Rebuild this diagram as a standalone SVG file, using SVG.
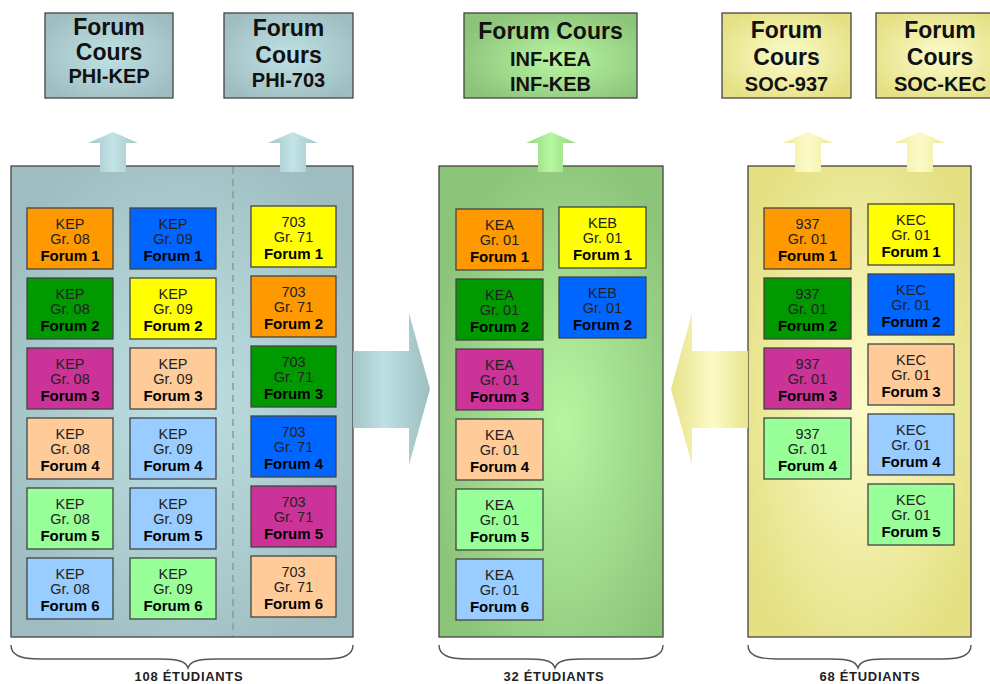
<svg xmlns="http://www.w3.org/2000/svg" width="990" height="684" viewBox="0 0 990 684">
<defs>
<style>
.hdr{font-family:"Liberation Sans",Arial,sans-serif;font-weight:bold;fill:#111;text-anchor:middle}
.h1{font-size:23px}
.h2{font-size:20px}
.bx{stroke:#444;stroke-width:1.3}
.pn{stroke:#444;stroke-width:1.3}
.t{font-family:"Liberation Sans",Arial,sans-serif;font-size:14.5px;fill:#222;text-anchor:middle}
.tb{font-family:"Liberation Sans",Arial,sans-serif;font-size:15px;font-weight:bold;fill:#000;text-anchor:middle}
.ft{font-family:"Liberation Sans",Arial,sans-serif;font-size:13px;font-weight:bold;fill:#222;text-anchor:middle;letter-spacing:0.7px}
.brace{fill:none;stroke:#555;stroke-width:1.4}
.or{fill:#ff9900}.bl{fill:#0066ff}.gr{fill:#009900}.ye{fill:#ffff00}.ma{fill:#cc3399}.pe{fill:#ffcc99}.lb{fill:#99ccff}.lg{fill:#99ff99}
</style>
<radialGradient id="gBlue" cx="0.5" cy="0.5" r="0.6">
<stop offset="0" stop-color="#bfe2e5"/><stop offset="1" stop-color="#9fbdc0"/>
</radialGradient>
<radialGradient id="gGreen" cx="0.55" cy="0.55" r="0.6">
<stop offset="0" stop-color="#b9f6a2"/><stop offset="1" stop-color="#8cc47a"/>
</radialGradient>
<radialGradient id="gYellow" cx="0.5" cy="0.5" r="0.6">
<stop offset="0" stop-color="#fdfccb"/><stop offset="1" stop-color="#e4e083"/>
</radialGradient>
<linearGradient id="uBlue" x1="0" y1="0" x2="1" y2="0">
<stop offset="0" stop-color="#a3c5c8"/><stop offset="0.5" stop-color="#c2e4e7"/><stop offset="1" stop-color="#a3c5c8"/>
</linearGradient>
<linearGradient id="uGreen" x1="0" y1="0" x2="1" y2="0">
<stop offset="0" stop-color="#93d381"/><stop offset="0.5" stop-color="#b6f7a0"/><stop offset="1" stop-color="#93d381"/>
</linearGradient>
<linearGradient id="uYellow" x1="0" y1="0" x2="1" y2="0">
<stop offset="0" stop-color="#eeea9c"/><stop offset="0.5" stop-color="#fcfbc8"/><stop offset="1" stop-color="#eeea9c"/>
</linearGradient>
<linearGradient id="aBlue" gradientUnits="userSpaceOnUse" x1="353" y1="0" x2="430" y2="0">
<stop offset="0" stop-color="#a6c6c9"/><stop offset="0.4" stop-color="#bde0e3"/><stop offset="1" stop-color="#9ebec1"/>
</linearGradient>
<linearGradient id="aYellow" gradientUnits="userSpaceOnUse" x1="748" y1="0" x2="671" y2="0">
<stop offset="0" stop-color="#e9e58f"/><stop offset="0.45" stop-color="#fcfbc6"/><stop offset="1" stop-color="#e7e38a"/>
</linearGradient>
</defs>
<rect x="0" y="0" width="990" height="684" fill="#ffffff"/>

<!-- header nodes -->
<g id="hdr-phi-kep">
<rect x="45" y="13" width="128" height="85" fill="url(#gBlue)" class="bx"/>
<text class="hdr h1" x="109" y="35">Forum</text>
<text class="hdr h1" x="109" y="60">Cours</text>
<text class="hdr h2" x="109" y="83">PHI-KEP</text>
</g>
<g id="hdr-phi-703">
<rect x="224" y="13" width="129" height="85" fill="url(#gBlue)" class="bx"/>
<text class="hdr h1" x="288.5" y="36">Forum</text>
<text class="hdr h1" x="288.5" y="63">Cours</text>
<text class="hdr h2" x="288.5" y="87">PHI-703</text>
</g>
<g id="hdr-inf">
<rect x="464" y="13" width="173" height="85" fill="url(#gGreen)" class="bx"/>
<text class="hdr h1" x="550.5" y="39">Forum Cours</text>
<text class="hdr h2" x="550.5" y="66">INF-KEA</text>
<text class="hdr h2" x="550.5" y="91">INF-KEB</text>
</g>
<g id="hdr-soc-937">
<rect x="722" y="13" width="129" height="85" fill="url(#gYellow)" class="bx"/>
<text class="hdr h1" x="786.5" y="38">Forum</text>
<text class="hdr h1" x="786.5" y="65">Cours</text>
<text class="hdr h2" x="786.5" y="91">SOC-937</text>
</g>
<g id="hdr-soc-kec">
<rect x="876" y="13" width="128" height="85" fill="url(#gYellow)" class="bx"/>
<text class="hdr h1" x="940" y="38">Forum</text>
<text class="hdr h1" x="940" y="65">Cours</text>
<text class="hdr h2" x="940" y="91">SOC-KEC</text>
</g>

<!-- panels -->
<g id="panel-phi">
<rect x="11" y="166" width="342" height="471" fill="url(#gBlue)" class="pn"/>
<line x1="233" y1="167" x2="233" y2="636" stroke="#8a9a9c" stroke-width="1.5" stroke-dasharray="7,5"/>
</g>
<g id="panel-inf">
<rect x="439" y="166" width="224" height="471" fill="url(#gGreen)" class="pn"/>
</g>
<g id="panel-soc">
<rect x="748" y="166" width="223" height="471" fill="url(#gYellow)" class="pn"/>
</g>

<!-- connectors -->
<g id="connectors">
<path d="M88,143 L113,132 L138,143 L126,143 L126,172 L100,172 L100,143 Z" fill="url(#uBlue)"/>
<path d="M268,143 L293,132 L318,143 L306,143 L306,172 L280,172 L280,143 Z" fill="url(#uBlue)"/>
<path d="M526,143 L551,132 L576,143 L563,143 L563,172 L538,172 L538,143 Z" fill="url(#uGreen)"/>
<path d="M783,143 L808,132 L833,143 L821,143 L821,172 L795,172 L795,143 Z" fill="url(#uYellow)"/>
<path d="M894,143 L920,132 L945,143 L933,143 L933,172 L907,172 L907,143 Z" fill="url(#uYellow)"/>
<path d="M353,351 L409,351 L409,313 L430,389 L409,465 L409,428 L353,428 Z" fill="url(#aBlue)"/>
<path d="M748,351 L692,351 L692,313 L671,389 L692,465 L692,428 L748,428 Z" fill="url(#aYellow)"/>
</g>

<!-- PHI-KEP Gr. 08 -->
<g id="kep08-f1"><rect class="bx or" x="27" y="208" width="86" height="61"/><text class="t" x="70" y="229">KEP</text><text class="t" x="70" y="244">Gr. 08</text><text class="tb" x="70" y="261">Forum 1</text></g>
<g id="kep08-f2"><rect class="bx gr" x="27" y="278" width="86" height="61"/><text class="t" x="70" y="299">KEP</text><text class="t" x="70" y="314">Gr. 08</text><text class="tb" x="70" y="331">Forum 2</text></g>
<g id="kep08-f3"><rect class="bx ma" x="27" y="348" width="86" height="61"/><text class="t" x="70" y="369">KEP</text><text class="t" x="70" y="384">Gr. 08</text><text class="tb" x="70" y="401">Forum 3</text></g>
<g id="kep08-f4"><rect class="bx pe" x="27" y="418" width="86" height="61"/><text class="t" x="70" y="439">KEP</text><text class="t" x="70" y="454">Gr. 08</text><text class="tb" x="70" y="471">Forum 4</text></g>
<g id="kep08-f5"><rect class="bx lg" x="27" y="488" width="86" height="61"/><text class="t" x="70" y="509">KEP</text><text class="t" x="70" y="524">Gr. 08</text><text class="tb" x="70" y="541">Forum 5</text></g>
<g id="kep08-f6"><rect class="bx lb" x="27" y="558" width="86" height="61"/><text class="t" x="70" y="579">KEP</text><text class="t" x="70" y="594">Gr. 08</text><text class="tb" x="70" y="611">Forum 6</text></g>

<!-- PHI-KEP Gr. 09 -->
<g id="kep09-f1"><rect class="bx bl" x="130" y="208" width="86" height="61"/><text class="t" x="173" y="229">KEP</text><text class="t" x="173" y="244">Gr. 09</text><text class="tb" x="173" y="261">Forum 1</text></g>
<g id="kep09-f2"><rect class="bx ye" x="130" y="278" width="86" height="61"/><text class="t" x="173" y="299">KEP</text><text class="t" x="173" y="314">Gr. 09</text><text class="tb" x="173" y="331">Forum 2</text></g>
<g id="kep09-f3"><rect class="bx pe" x="130" y="348" width="86" height="61"/><text class="t" x="173" y="369">KEP</text><text class="t" x="173" y="384">Gr. 09</text><text class="tb" x="173" y="401">Forum 3</text></g>
<g id="kep09-f4"><rect class="bx lb" x="130" y="418" width="86" height="61"/><text class="t" x="173" y="439">KEP</text><text class="t" x="173" y="454">Gr. 09</text><text class="tb" x="173" y="471">Forum 4</text></g>
<g id="kep09-f5"><rect class="bx lb" x="130" y="488" width="86" height="61"/><text class="t" x="173" y="509">KEP</text><text class="t" x="173" y="524">Gr. 09</text><text class="tb" x="173" y="541">Forum 5</text></g>
<g id="kep09-f6"><rect class="bx lg" x="130" y="558" width="86" height="61"/><text class="t" x="173" y="579">KEP</text><text class="t" x="173" y="594">Gr. 09</text><text class="tb" x="173" y="611">Forum 6</text></g>

<!-- PHI-703 Gr. 71 -->
<g id="p703-f1"><rect class="bx ye" x="251" y="206" width="85" height="61"/><text class="t" x="293.5" y="227">703</text><text class="t" x="293.5" y="242">Gr. 71</text><text class="tb" x="293.5" y="259">Forum 1</text></g>
<g id="p703-f2"><rect class="bx or" x="251" y="276" width="85" height="61"/><text class="t" x="293.5" y="297">703</text><text class="t" x="293.5" y="312">Gr. 71</text><text class="tb" x="293.5" y="329">Forum 2</text></g>
<g id="p703-f3"><rect class="bx gr" x="251" y="346" width="85" height="61"/><text class="t" x="293.5" y="367">703</text><text class="t" x="293.5" y="382">Gr. 71</text><text class="tb" x="293.5" y="399">Forum 3</text></g>
<g id="p703-f4"><rect class="bx bl" x="251" y="416" width="85" height="61"/><text class="t" x="293.5" y="437">703</text><text class="t" x="293.5" y="452">Gr. 71</text><text class="tb" x="293.5" y="469">Forum 4</text></g>
<g id="p703-f5"><rect class="bx ma" x="251" y="486" width="85" height="61"/><text class="t" x="293.5" y="507">703</text><text class="t" x="293.5" y="522">Gr. 71</text><text class="tb" x="293.5" y="539">Forum 5</text></g>
<g id="p703-f6"><rect class="bx pe" x="251" y="556" width="85" height="61"/><text class="t" x="293.5" y="577">703</text><text class="t" x="293.5" y="592">Gr. 71</text><text class="tb" x="293.5" y="609">Forum 6</text></g>

<!-- INF-KEA Gr. 01 -->
<g id="kea-f1"><rect class="bx or" x="456" y="209" width="87" height="61"/><text class="t" x="499.5" y="230">KEA</text><text class="t" x="499.5" y="245">Gr. 01</text><text class="tb" x="499.5" y="262">Forum 1</text></g>
<g id="kea-f2"><rect class="bx gr" x="456" y="279" width="87" height="61"/><text class="t" x="499.5" y="300">KEA</text><text class="t" x="499.5" y="315">Gr. 01</text><text class="tb" x="499.5" y="332">Forum 2</text></g>
<g id="kea-f3"><rect class="bx ma" x="456" y="349" width="87" height="61"/><text class="t" x="499.5" y="370">KEA</text><text class="t" x="499.5" y="385">Gr. 01</text><text class="tb" x="499.5" y="402">Forum 3</text></g>
<g id="kea-f4"><rect class="bx pe" x="456" y="419" width="87" height="61"/><text class="t" x="499.5" y="440">KEA</text><text class="t" x="499.5" y="455">Gr. 01</text><text class="tb" x="499.5" y="472">Forum 4</text></g>
<g id="kea-f5"><rect class="bx lg" x="456" y="489" width="87" height="61"/><text class="t" x="499.5" y="510">KEA</text><text class="t" x="499.5" y="525">Gr. 01</text><text class="tb" x="499.5" y="542">Forum 5</text></g>
<g id="kea-f6"><rect class="bx lb" x="456" y="559" width="87" height="61"/><text class="t" x="499.5" y="580">KEA</text><text class="t" x="499.5" y="595">Gr. 01</text><text class="tb" x="499.5" y="612">Forum 6</text></g>

<!-- INF-KEB Gr. 01 -->
<g id="keb-f1"><rect class="bx ye" x="559" y="207" width="87" height="61"/><text class="t" x="602.5" y="228">KEB</text><text class="t" x="602.5" y="243">Gr. 01</text><text class="tb" x="602.5" y="260">Forum 1</text></g>
<g id="keb-f2"><rect class="bx bl" x="559" y="277" width="87" height="61"/><text class="t" x="602.5" y="298">KEB</text><text class="t" x="602.5" y="313">Gr. 01</text><text class="tb" x="602.5" y="330">Forum 2</text></g>

<!-- SOC-937 Gr. 01 -->
<g id="s937-f1"><rect class="bx or" x="764" y="208" width="87" height="61"/><text class="t" x="807.5" y="229">937</text><text class="t" x="807.5" y="244">Gr. 01</text><text class="tb" x="807.5" y="261">Forum 1</text></g>
<g id="s937-f2"><rect class="bx gr" x="764" y="278" width="87" height="61"/><text class="t" x="807.5" y="299">937</text><text class="t" x="807.5" y="314">Gr. 01</text><text class="tb" x="807.5" y="331">Forum 2</text></g>
<g id="s937-f3"><rect class="bx ma" x="764" y="348" width="87" height="61"/><text class="t" x="807.5" y="369">937</text><text class="t" x="807.5" y="384">Gr. 01</text><text class="tb" x="807.5" y="401">Forum 3</text></g>
<g id="s937-f4"><rect class="bx lg" x="764" y="418" width="87" height="61"/><text class="t" x="807.5" y="439">937</text><text class="t" x="807.5" y="454">Gr. 01</text><text class="tb" x="807.5" y="471">Forum 4</text></g>

<!-- SOC-KEC Gr. 01 -->
<g id="kec-f1"><rect class="bx ye" x="868" y="204" width="86" height="61"/><text class="t" x="911" y="225">KEC</text><text class="t" x="911" y="240">Gr. 01</text><text class="tb" x="911" y="257">Forum 1</text></g>
<g id="kec-f2"><rect class="bx bl" x="868" y="274" width="86" height="61"/><text class="t" x="911" y="295">KEC</text><text class="t" x="911" y="310">Gr. 01</text><text class="tb" x="911" y="327">Forum 2</text></g>
<g id="kec-f3"><rect class="bx pe" x="868" y="344" width="86" height="61"/><text class="t" x="911" y="365">KEC</text><text class="t" x="911" y="380">Gr. 01</text><text class="tb" x="911" y="397">Forum 3</text></g>
<g id="kec-f4"><rect class="bx lb" x="868" y="414" width="86" height="61"/><text class="t" x="911" y="435">KEC</text><text class="t" x="911" y="450">Gr. 01</text><text class="tb" x="911" y="467">Forum 4</text></g>
<g id="kec-f5"><rect class="bx lg" x="868" y="484" width="86" height="61"/><text class="t" x="911" y="505">KEC</text><text class="t" x="911" y="520">Gr. 01</text><text class="tb" x="911" y="537">Forum 5</text></g>

<!-- braces and totals -->
<g id="total-phi">
<path class="brace" d="M11,645 C11,655 20,659 40,659 L160,659 C180,659 186,662 188,668 C190,662 196,659 216,659 L324,659 C344,659 353,655 353,645"/>
<text class="ft" x="189" y="681">108 ÉTUDIANTS</text>
</g>
<g id="total-inf">
<path class="brace" d="M439,645 C439,655 448,659 468,659 L528,659 C548,659 553,662 555,668 C557,662 562,659 582,659 L634,659 C654,659 663,655 663,645"/>
<text class="ft" x="554" y="681">32 ÉTUDIANTS</text>
</g>
<g id="total-soc">
<path class="brace" d="M748,645 C748,655 757,659 777,659 L831,659 C851,659 856,662 858,668 C860,662 865,659 885,659 L942,659 C962,659 971,655 971,645"/>
<text class="ft" x="870" y="681">68 ÉTUDIANTS</text>
</g>
</svg>
